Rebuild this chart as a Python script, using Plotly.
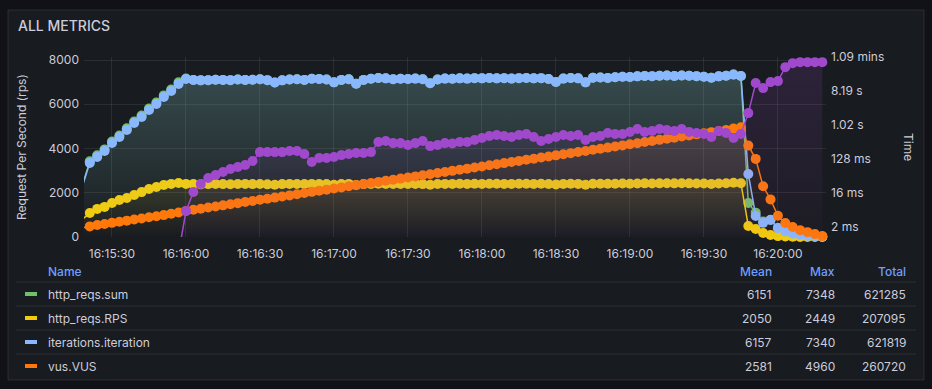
import plotly.graph_objects as go
import pandas as pd

# ---------------- data ----------------
times = pd.date_range("2024-01-01 16:15:18", periods=101, freq="3s")

http_reqs_sum = [2360, 3420, 3690, 3960, 4320, 4590, 4910, 5220, 5490, 5810, 6080, 6400, 6670, 6990,
                 7160, 7100, 7080, 7090, 7110, 7100, 7090, 7120, 7100, 7110, 7130, 7090, 6980, 7080, 7120, 7130,
                 7100, 7150, 7140, 7120, 6990, 7100, 7130, 6930, 7100, 7150, 7190, 7170, 7130, 7150, 7140, 7160,
                 7130, 6950, 7120, 7160, 7150, 7170, 7160, 7180, 7170, 7190, 7170, 7180, 7160, 7180, 7190, 7170,
                 7180, 7140, 7010, 7160, 7190, 7170, 6990, 7200, 7210, 7190, 7220, 7240, 7230, 7260, 7280, 7270,
                 7290, 7300, 7280, 7300, 7290, 7270, 7240, 7200, 7260, 7290, 7348, 7280,
                 1540, 1100, 700, 780, 420, 260, 160, 90, 50, 30, 10]

http_reqs_rps = [800, 1085, 1270, 1360, 1540, 1670, 1760, 1900, 2030, 2170, 2260, 2350, 2400, 2440,
                 2400, 2390, 2380, 2390, 2400, 2390, 2385, 2395, 2400, 2390,
                 2395, 2380, 2360, 2390, 2400, 2395, 2390, 2400, 2395, 2390,
                 2360, 2390, 2400, 2350, 2390, 2400, 2410, 2400, 2395, 2400,
                 2395, 2400, 2390, 2360, 2395, 2400, 2400, 2405, 2400, 2405,
                 2400, 2410, 2405, 2400, 2400, 2405, 2410, 2400, 2405, 2395,
                 2370, 2400, 2405, 2400, 2365, 2405, 2410, 2405, 2410, 2415,
                 2410, 2420, 2425, 2420, 2425, 2430, 2425, 2430, 2425, 2420,
                 2415, 2400, 2420, 2430, 2449, 2430,
                 500, 360, 180, 90, 40, 20, 10, 5, 0, 0, 0]

iterations = [2300, 3350, 3620, 3890, 4250, 4520, 4840, 5150, 5420, 5740, 6010, 6330, 6600, 6920,
              7140, 7100, 7080, 7090, 7110, 7100, 7090, 7120, 7100, 7110, 7130, 7090, 6980, 7080, 7120, 7130,
              7100, 7150, 7140, 7120, 6990, 7100, 7130, 6930, 7100, 7150, 7190, 7170, 7130, 7150, 7140, 7160,
              7130, 6950, 7120, 7160, 7150, 7170, 7160, 7180, 7170, 7190, 7170, 7180, 7160, 7180, 7190, 7170,
              7180, 7140, 7010, 7160, 7190, 7170, 6990, 7200, 7210, 7190, 7220, 7240, 7230, 7260, 7280, 7270,
              7290, 7300, 7280, 7300, 7290, 7270, 7240, 7200, 7260, 7290, 7340, 7280,
              2850, 950, 640, 770, 400, 250, 150, 90, 50, 30, 10]

vus = [420, 480, 540, 590, 640, 690, 740, 790, 840, 890,
       940, 990, 1050, 1110, 1180, 1230, 1280, 1330, 1380, 1430,
       1480, 1530, 1580, 1630, 1680, 1730, 1780, 1830, 1880, 1930,
       1990, 2040, 2090, 2140, 2190, 2240, 2290, 2340, 2390, 2440,
       2490, 2540, 2590, 2640, 2690, 2740, 2790, 2840, 2890, 2940,
       2990, 3040, 3090, 3140, 3190, 3240, 3290, 3340, 3390, 3440,
       3490, 3540, 3590, 3640, 3690, 3740, 3790, 3840, 3890, 3940,
       3990, 4040, 4090, 4140, 4190, 4240, 4290, 4340, 4390, 4440,
       4490, 4540, 4590, 4640, 4690, 4740, 4790, 4840, 4900, 4960,
       4130, 3530, 2290, 1700, 960, 630, 450, 310, 220, 130, 40]

# response time in seconds (right axis)
resp_time = [None] * 13 + [
    0.0004, 0.00532, 0.0170, 0.0277, 0.0400, 0.0481, 0.0578, 0.0693, 0.0785, 0.0887, 0.1132,
    0.196, 0.196, 0.196, 0.196, 0.209, 0.209, 0.174, 0.1064, 0.136, 0.136,
    0.1445, 0.163, 0.174, 0.1845, 0.1845, 0.196, 0.362, 0.385, 0.340, 0.340,
    0.301, 0.340, 0.385, 0.283, 0.301, 0.340, 0.330, 0.362, 0.362, 0.409,
    0.462, 0.522, 0.556, 0.522, 0.491, 0.556, 0.590, 0.491, 0.385, 0.435,
    0.491, 0.556, 0.522, 0.556, 0.409, 0.491, 0.522, 0.628, 0.590, 0.590,
    0.667, 0.802, 0.667, 0.710, 0.802, 0.754, 0.710, 0.802, 0.667, 0.628,
    0.590, 0.491, 0.710, 0.628, 0.462, 0.590,
    2.13, 13.4, 9.84, 14.2, 15.1, 35.5, 45.4, 48.2, 48.2, 48.2, 48.2]

legend_names = ["http_reqs.sum", "http_reqs.RPS", "iterations.iteration", "vus.VUS"]
legend_mean = [6151, 2050, 6157, 2581]
legend_max = [7348, 2449, 7340, 4960]
legend_total = [621285, 207095, 621819, 260720]

right_tickvals = [0.002, 0.016, 0.128, 1.024, 8.192, 65.536]
right_ticktext = ["2 ms", "16 ms", "128 ms", "1.02 s", "8.19 s", "1.09 mins"]

# ---------------- style ----------------
W, H = 932, 389
PL, PR, PT, PB = 84, 826, 57, 237
FONT = "Inter, Noto Sans, sans-serif"
TXT = "#ccccdc"
GRID = "rgba(204,204,220,0.10)"
colors = ["#73BF69", "#F2CC0C", "#8AB8FF", "#FF780A"]
PURPLE = "#A049CC"
MS = 10

x_start = pd.Timestamp("2024-01-01 16:15:18.65")
x_end = pd.Timestamp("2024-01-01 16:20:19.5")


def px2x(px):
    return (px - PL) / (PR - PL)


def py2y(py):
    return (PB - py) / (PB - PT)


def rgba(hexc, a):
    h = hexc.lstrip("#")
    return "rgba(%d,%d,%d,%s)" % (int(h[0:2], 16), int(h[2:4], 16), int(h[4:6], 16), a)


sizes_main = [MS if t >= x_start else 0 for t in times]

fig = go.Figure()

series = [http_reqs_sum, http_reqs_rps, iterations, vus]
fill_alpha = [0.16, 0.10, 0.16, 0.10]
for name, vals, col, fa in zip(legend_names, series, colors, fill_alpha):
    fig.add_trace(go.Scatter(
        x=times, y=vals, mode="lines+markers", name=name,
        line=dict(color=col, width=1.5),
        marker=dict(color=col, size=sizes_main, opacity=1, line=dict(width=0)),
        fill="tozeroy",
        fillgradient=dict(type="vertical",
                          colorscale=[[0, rgba(col, 0)], [1, rgba(col, fa)]]),
        cliponaxis=False, showlegend=False, hoverinfo="skip",
    ))

# purple response time on right log axis
p_times = [t for t, v in zip(times, resp_time) if v is not None]
p_vals = [v for v in resp_time if v is not None]
p_sizes = [MS if v >= 0.0011 else 0 for v in p_vals]
fig.add_trace(go.Scatter(
    x=p_times, y=[0.0001] * len(p_times), yaxis="y2", mode="lines",
    line=dict(width=0, color="rgba(0,0,0,0)"), showlegend=False, hoverinfo="skip"))
fig.add_trace(go.Scatter(
    x=p_times, y=p_vals, yaxis="y2", mode="lines+markers",
    line=dict(color=PURPLE, width=1.5),
    marker=dict(color=PURPLE, size=p_sizes, opacity=1, line=dict(width=0)),
    fill="tonexty",
    fillgradient=dict(type="vertical",
                      colorscale=[[0, rgba(PURPLE, 0)], [1, rgba(PURPLE, 0.16)]]),
    cliponaxis=False, showlegend=False, hoverinfo="skip"))

shapes = []
annotations = []

# panel background
shapes.append(dict(type="rect", xref="paper", yref="paper", layer="below",
                   x0=px2x(8), x1=px2x(924), y0=py2y(380), y1=py2y(10),
                   fillcolor="#181b1f", line=dict(color="rgba(204,204,220,0.12)", width=1)))

annotations.append(dict(xref="paper", yref="paper", x=px2x(16), y=py2y(26),
                        text="ALL METRICS", showarrow=False, xanchor="left", yanchor="middle",
                        font=dict(family=FONT, size=14, color=TXT, weight=500)))
annotations.append(dict(xref="paper", yref="paper", x=px2x(21), y=py2y(147),
                        text="Request Per Second (rps)", showarrow=False, textangle=-90,
                        xanchor="center", yanchor="middle",
                        font=dict(family=FONT, size=12, color=TXT)))
annotations.append(dict(xref="paper", yref="paper", x=px2x(909), y=py2y(147),
                        text="Time", showarrow=False, textangle=90,
                        xanchor="center", yanchor="middle",
                        font=dict(family=FONT, size=12, color=TXT)))

# legend table
HEAD = "#6E9FFF"
annotations.append(dict(xref="paper", yref="paper", x=px2x(46), y=py2y(271), text="Name",
                        showarrow=False, xanchor="left", yanchor="middle",
                        font=dict(family=FONT, size=12, color=HEAD, weight=500)))
for lbl, xr in zip(["Mean", "Max", "Total"], [774, 837, 908]):
    annotations.append(dict(xref="paper", yref="paper", x=px2x(xr), y=py2y(271), text=lbl,
                            showarrow=False, xanchor="right", yanchor="middle",
                            font=dict(family=FONT, size=12, color=HEAD, weight=500)))
for k, sep in enumerate([282, 306, 330, 354]):
    shapes.append(dict(type="line", xref="paper", yref="paper",
                       x0=px2x(16), x1=px2x(916), y0=py2y(sep), y1=py2y(sep),
                       line=dict(color="rgba(204,204,220,0.12)", width=1)))
for k, (nm, mn, mx, tt) in enumerate(zip(legend_names, legend_mean, legend_max, legend_total)):
    cy = 294 + 24 * k
    shapes.append(dict(type="line", xref="paper", yref="paper",
                       x0=px2x(25), x1=px2x(37), y0=py2y(cy), y1=py2y(cy),
                       line=dict(color=colors[k], width=4)))
    annotations.append(dict(xref="paper", yref="paper", x=px2x(46), y=py2y(cy), text=nm,
                            showarrow=False, xanchor="left", yanchor="middle",
                            font=dict(family=FONT, size=12, color=TXT)))
    for val, xr in zip([mn, mx, tt], [774, 837, 908]):
        annotations.append(dict(xref="paper", yref="paper", x=px2x(xr), y=py2y(cy), text=str(val),
                                showarrow=False, xanchor="right", yanchor="middle",
                                font=dict(family=FONT, size=12, color=TXT)))

fig.update_layout(
    width=W, height=H, autosize=False,
    margin=dict(l=PL, r=W - PR, t=PT, b=H - PB, pad=0),
    paper_bgcolor="#111217", plot_bgcolor="rgba(0,0,0,0)",
    font=dict(family=FONT, size=12, color=TXT),
    showlegend=False,
    xaxis=dict(type="date", range=[x_start, x_end], tick0="2024-01-01 16:15:30", dtick=30000,
               tickformat="%H:%M:%S", showgrid=True, gridcolor=GRID, zeroline=False,
               showline=False, ticks="", ticklabelstandoff=8,
               tickfont=dict(family=FONT, size=12, color=TXT)),
    yaxis=dict(range=[0, 8000 * (PB - PT) / (PB - 60)], tickvals=[0, 2000, 4000, 6000, 8000],
               showgrid=True, gridcolor=GRID, zeroline=False, showline=False, ticks="",
               ticklabelstandoff=4, tickfont=dict(family=FONT, size=12, color=TXT)),
    yaxis2=dict(type="log", overlaying="y", side="right", range=[-2.965, 1.82],
                tickvals=right_tickvals, ticktext=right_ticktext, showgrid=False,
                zeroline=False, showline=False, ticks="", ticklabelstandoff=4,
                tickfont=dict(family=FONT, size=12, color=TXT)),
    shapes=shapes, annotations=annotations,
)

fig.write_html("out.html", config={"displayModeBar": False},
               post_script="document.body.style.margin='0';document.body.style.background='#111217';")
